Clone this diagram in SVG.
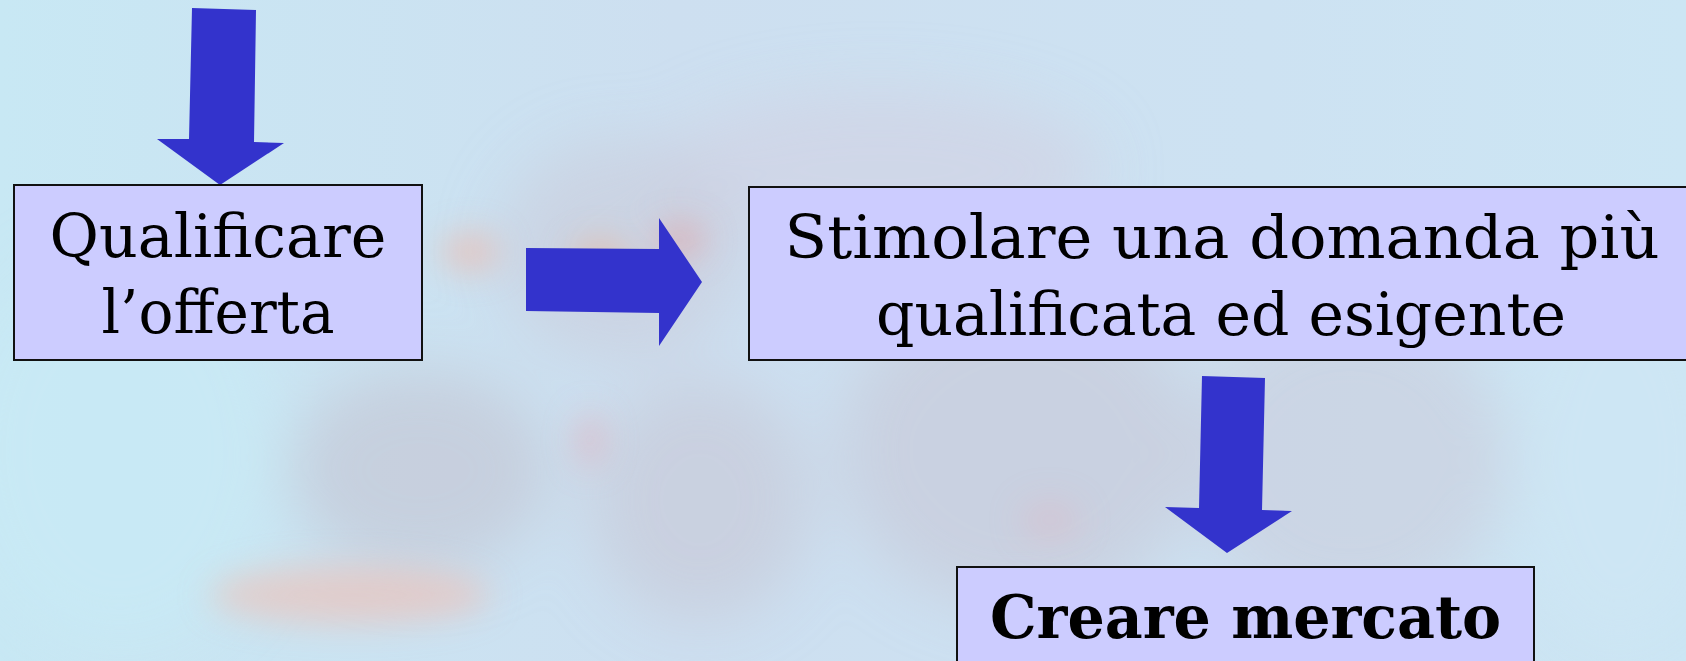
<svg xmlns="http://www.w3.org/2000/svg" width="1686" height="661" viewBox="0 0 1686 661">
<style>
.box{fill:#ccccff;stroke:#111;stroke-width:2}
.arrow{fill:#3333cc}
.t{font-family:"DejaVu Serif","Liberation Serif",serif;font-size:60px;fill:#000;text-anchor:middle}
.b{font-weight:bold}
</style>
<defs>
<filter id="blur" x="-50%" y="-50%" width="200%" height="200%"><feGaussianBlur stdDeviation="30"/></filter>
<filter id="blur2" x="-50%" y="-50%" width="200%" height="200%"><feGaussianBlur stdDeviation="16"/></filter>
<linearGradient id="bg" x1="0" y1="0" x2="1" y2="0">
<stop offset="0" stop-color="#c8e8f4"/>
<stop offset="0.4" stop-color="#cddff0"/>
<stop offset="0.75" stop-color="#cde2f2"/>
<stop offset="1" stop-color="#cce6f4"/>
</linearGradient>
</defs>
<g id="background">
<rect x="0" y="0" width="1686" height="661" fill="url(#bg)"/>
<g filter="url(#blur)">
<ellipse cx="880" cy="170" rx="220" ry="80" fill="#d0d3e4" opacity="0.7"/>
<ellipse cx="420" cy="470" rx="130" ry="100" fill="#c4c8d6" opacity="0.7"/>
<ellipse cx="700" cy="500" rx="110" ry="120" fill="#c8cad8" opacity="0.7"/>
<ellipse cx="620" cy="250" rx="120" ry="110" fill="#c9ccda" opacity="0.6"/>
<ellipse cx="1020" cy="450" rx="180" ry="160" fill="#c8cbda" opacity="0.7"/>
<ellipse cx="1350" cy="460" rx="160" ry="150" fill="#cacddc" opacity="0.6"/>
<ellipse cx="120" cy="450" rx="160" ry="200" fill="#c8eaf5" opacity="0.8"/>
<ellipse cx="1620" cy="460" rx="110" ry="190" fill="#cde6f4" opacity="0.8"/>
</g>
<g filter="url(#blur2)">
<ellipse cx="470" cy="252" rx="30" ry="20" fill="#f0b8a8" opacity="0.6"/>
<ellipse cx="600" cy="258" rx="30" ry="18" fill="#f0b090" opacity="0.5"/>
<ellipse cx="680" cy="240" rx="25" ry="18" fill="#e89a9a" opacity="0.5"/>
<ellipse cx="350" cy="595" rx="140" ry="30" fill="#f0c0b4" opacity="0.6"/>
<ellipse cx="590" cy="440" rx="14" ry="28" fill="#e8a8b4" opacity="0.5"/>
<ellipse cx="1050" cy="520" rx="30" ry="20" fill="#e8b0b8" opacity="0.3"/>
</g>
</g>
<g id="connectors">
<polygon class="arrow" points="192,8 256,10 254,142 284,143 220,185 157,139 189,139"/>
<polygon class="arrow" points="526,248 659,249 659,218 702,282 659,346 659,313 526,311"/>
<polygon class="arrow" points="1202,376 1265,378 1262,510 1292,511 1227,553 1165,507 1199,508"/>
</g>
<g id="node-qualificare">
<rect class="box" x="14" y="185" width="408" height="175"/>
<text class="t" x="218" y="257" textLength="337" lengthAdjust="spacingAndGlyphs">Qualificare</text>
<text class="t" x="218" y="333" textLength="233" lengthAdjust="spacingAndGlyphs">l’offerta</text>
</g>
<g id="node-stimolare">
<rect class="box" x="749" y="187" width="950" height="173"/>
<text class="t" x="1222" y="258" textLength="875" lengthAdjust="spacingAndGlyphs">Stimolare una domanda più</text>
<text class="t" x="1221" y="335" textLength="690" lengthAdjust="spacingAndGlyphs">qualificata ed esigente</text>
</g>
<g id="node-creare">
<rect class="box" x="957" y="567" width="577" height="130"/>
<text class="t b" x="1245.5" y="638" textLength="511" lengthAdjust="spacingAndGlyphs">Creare mercato</text>
</g>
</svg>
